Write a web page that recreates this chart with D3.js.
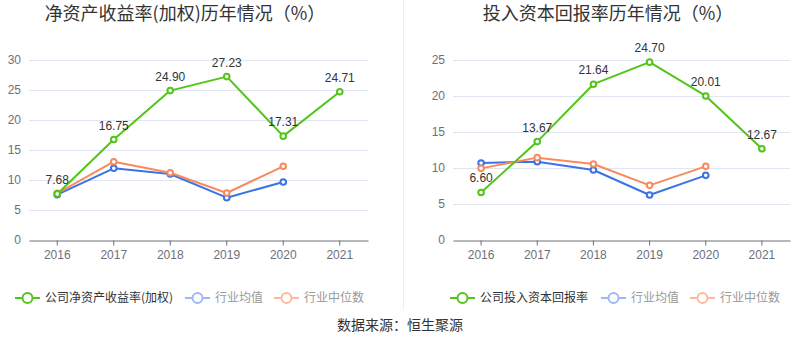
<!DOCTYPE html>
<html><head><meta charset="utf-8">
<script src="https://cdn.jsdelivr.net/npm/d3@7"></script>
<style>
body{margin:0;background:#fff;}
text{font-family:"Liberation Sans","Noto Sans CJK SC",sans-serif;}
.cjk{font-family:"Noto Sans CJK SC","Liberation Sans",sans-serif;}
</style></head>
<body><svg id="c" width="800" height="358"></svg>
<script>
const years = ["2016","2017","2018","2019","2020","2021"];
const roeCompany = [7.68,16.75,24.90,27.23,17.31,24.71];
const roeMean = [7.55,11.95,11.0,7.05,9.67];
const roeMedian = [7.78,13.05,11.2,7.83,12.28];
const roicCompany = [6.60,13.67,21.64,24.70,20.01,12.67];
const roicMean = [10.7,10.88,9.72,6.25,8.98];
const roicMedian = [9.95,11.44,10.56,7.59,10.23];
const roeTicks = [0,5,10,15,20,25,30];
const roicTicks = [0,5,10,15,20,25];
const titles = ["净资产收益率(加权)历年情况（%）","投入资本回报率历年情况（%）"];
const legendNames = [["公司净资产收益率(加权)","行业均值","行业中位数"],["公司投入资本回报率","行业均值","行业中位数"]];
const source = "数据来源：恒生聚源";

const colors = {company:"#52c41a", mean:"#3b72e6", median:"#fa8a5c"};
const legendIcon = {company:"#52c41a", mean:"#9db8f2", median:"#fdb8a0"};

const svg = d3.select("#c");

// divider
svg.append("line").attr("x1",403.5).attr("x2",403.5).attr("y1",0).attr("y2",310)
  .attr("stroke","#eeeeee").attr("stroke-width",1);

function drawChart(cfg){
  const g = svg.append("g");
  const x = d3.scaleBand().domain(years).range([cfg.x0,cfg.x1]);
  const y = d3.scaleLinear().domain([0,cfg.max]).range([240,60]);
  // grid
  g.selectAll(".grid").data(cfg.ticks.filter(t=>t>0)).enter().append("line")
    .attr("x1",cfg.x0).attr("x2",cfg.x1).attr("y1",d=>y(d)+0.5).attr("y2",d=>y(d)+0.5)
    .attr("stroke","#e0e6f1").attr("stroke-width",1);
  // y labels
  g.selectAll(".yl").data(cfg.ticks).enter().append("text")
    .attr("x",cfg.x0-8).attr("y",d=>y(d)).attr("dy","0.35em").attr("text-anchor","end")
    .attr("font-size",12).attr("fill","#6e7079").text(d=>d);
  // x axis
  const xa = d3.axisBottom(x).tickSize(5).tickSizeOuter(0);
  const ax = g.append("g").attr("transform","translate(0,240.5)").call(xa);
  ax.select(".domain").attr("stroke","#6e7079");
  ax.selectAll(".tick line").attr("stroke","#6e7079");
  ax.selectAll(".tick text").attr("font-size",12).attr("fill","#6e7079").attr("dy","0.9em")
    .attr("font-family","Liberation Sans, sans-serif");
  const cx = (d,i)=>x(years[i])+x.bandwidth()/2;
  const line = d3.line().x(cx).y(d=>y(d));
  [["mean",cfg.mean],["median",cfg.median],["company",cfg.company]].forEach(([k,arr])=>{
    g.append("path").datum(arr).attr("d",line).attr("fill","none")
      .attr("stroke",colors[k]).attr("stroke-width",2).attr("stroke-linejoin","round");
    g.selectAll(".p"+k).data(arr).enter().append("circle")
      .attr("cx",cx).attr("cy",d=>y(d)).attr("r",2.8)
      .attr("fill","#fff").attr("stroke",colors[k]).attr("stroke-width",2);
  });
  g.selectAll(".lab").data(cfg.company).enter().append("text")
    .attr("x",cx).attr("y",d=>y(d)-10).attr("text-anchor","middle")
    .attr("font-size",12).attr("fill","#333").text(d=>d.toFixed(2));
  // title
  g.append("text").attr("class","cjk").attr("x",cfg.titleX).attr("y",20).attr("text-anchor","middle")
    .attr("font-size",18).attr("fill","#333").text(cfg.title);
  // legend
  const keys = ["company","mean","median"];
  cfg.legendX.forEach((lx,i)=>{
    const k = keys[i];
    const lg = g.append("g").attr("transform",`translate(${lx},298)`);
    lg.append("line").attr("x1",0).attr("x2",25).attr("y1",0).attr("y2",0)
      .attr("stroke",legendIcon[k]).attr("stroke-width",2);
    lg.append("circle").attr("cx",12.5).attr("cy",0).attr("r",5)
      .attr("fill","#fff").attr("stroke",legendIcon[k]).attr("stroke-width",2);
    lg.append("text").attr("class","cjk").attr("x",30).attr("y",0).attr("dy","0.35em")
      .attr("font-size",12).attr("fill",i===0?"#333":"#999").text(cfg.legend[i]);
  });
}

drawChart({x0:29,x1:368,max:30,ticks:roeTicks,company:roeCompany,mean:roeMean,median:roeMedian,
  title:titles[0],titleX:185,legend:legendNames[0],legendX:[15,185,274]});
drawChart({x0:453,x1:790,max:25,ticks:roicTicks,company:roicCompany,mean:roicMean,median:roicMedian,
  title:titles[1],titleX:608,legend:legendNames[1],legendX:[450,601,690]});

svg.append("text").attr("class","cjk").attr("x",400).attr("y",325).attr("dy","0.35em")
  .attr("text-anchor","middle").attr("font-size",14).attr("fill","#333").text(source);
</script></body></html>
